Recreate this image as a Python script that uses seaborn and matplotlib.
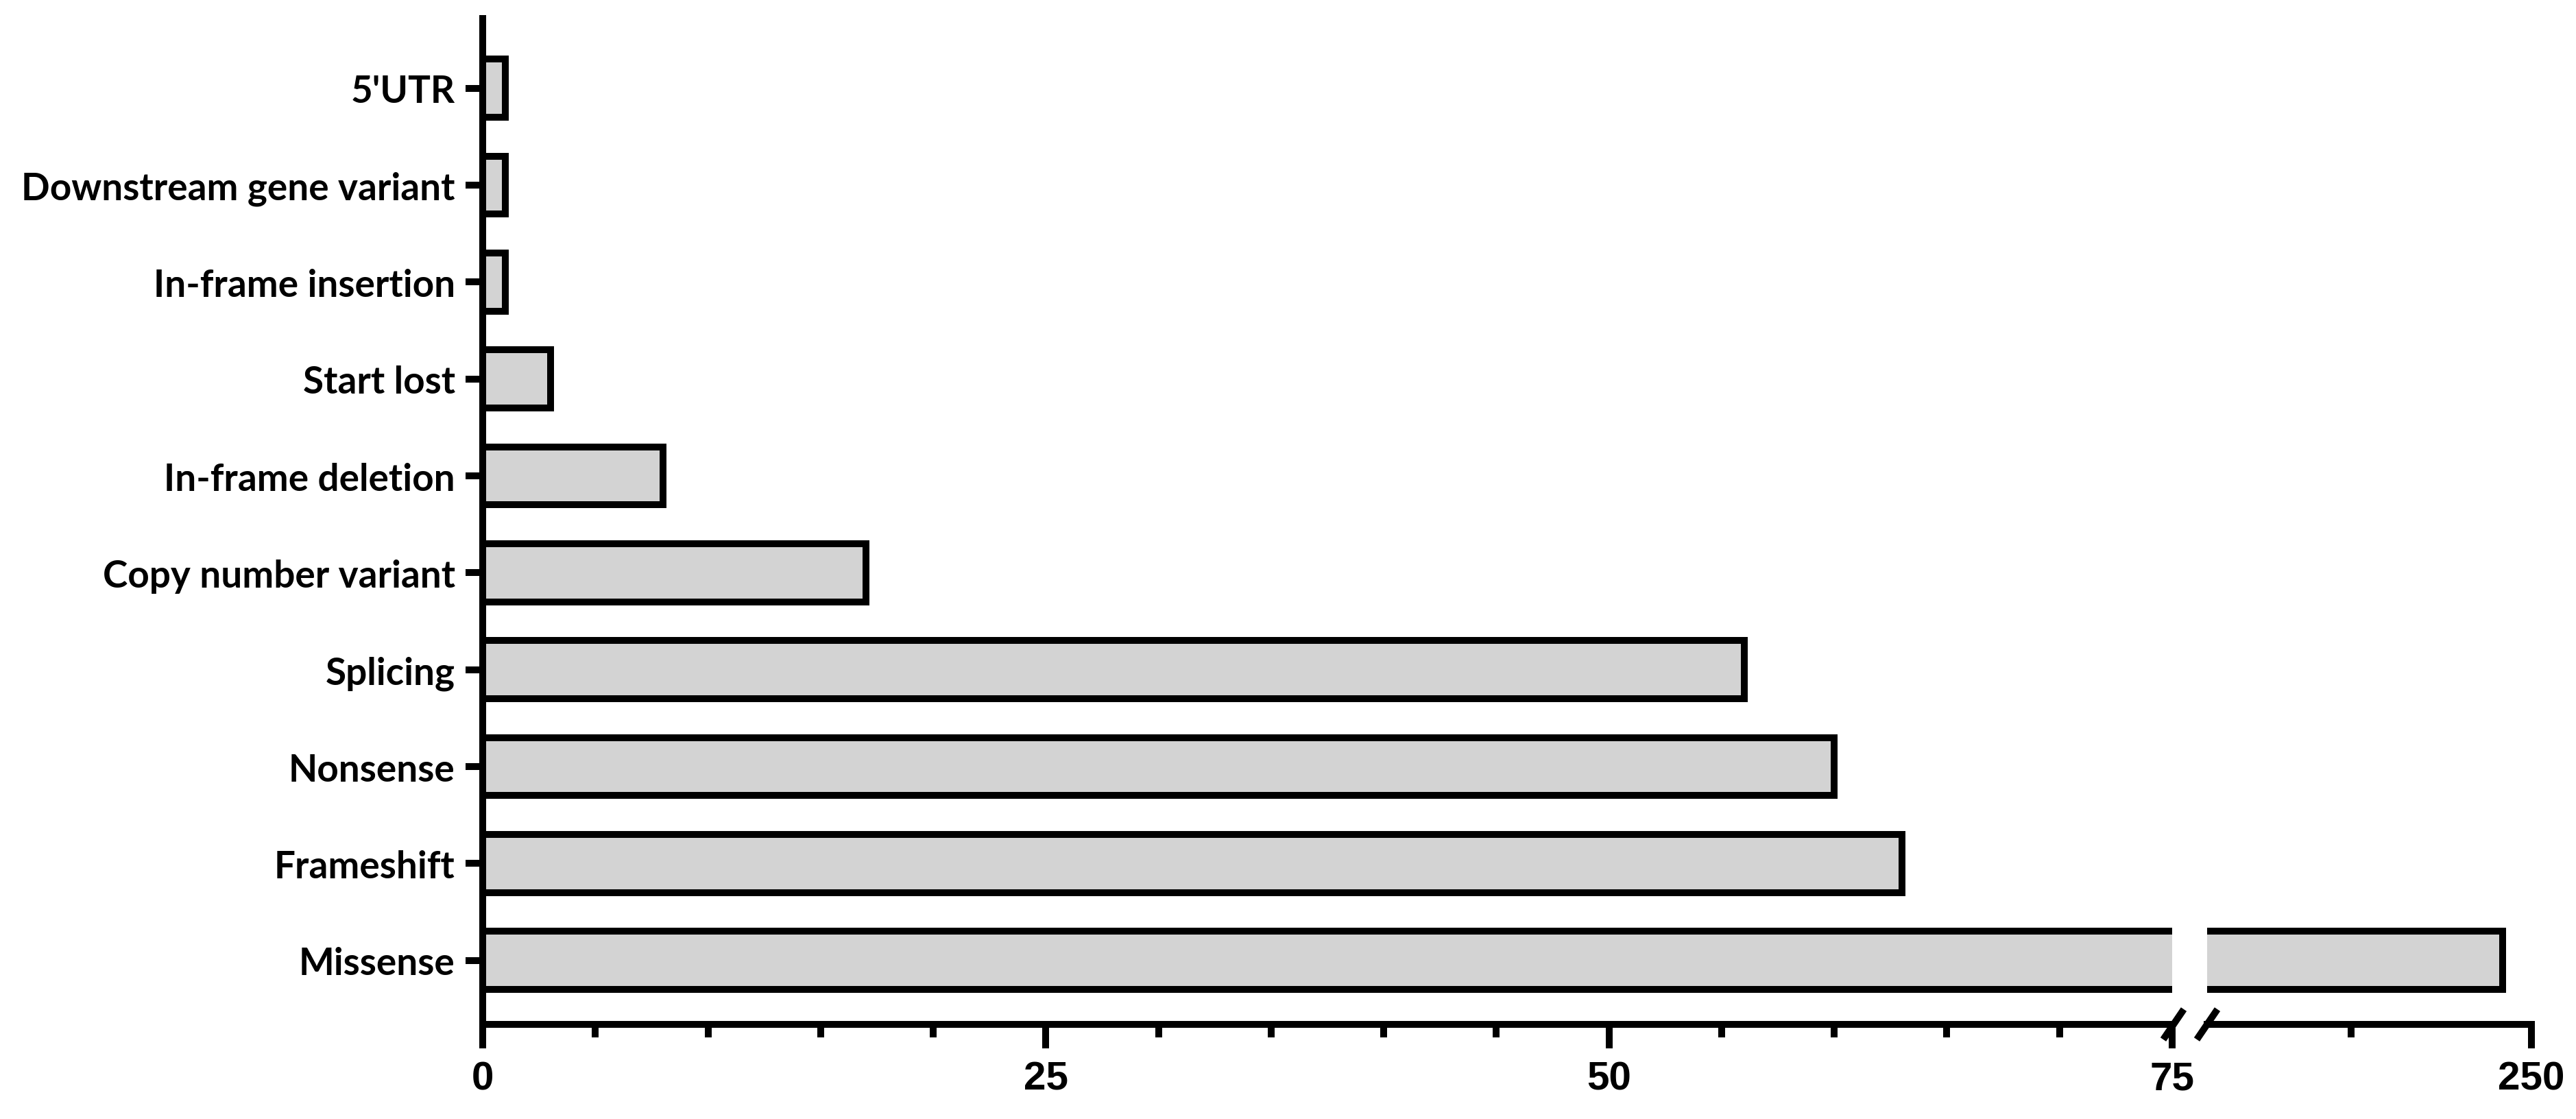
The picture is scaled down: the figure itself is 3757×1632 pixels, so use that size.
# %%
"""
Variant consequence counts, horizontal bars with a broken x axis (0-75 | 205-250).
"""

# %%
import matplotlib
matplotlib.use("Agg")

import pandas as pd
import matplotlib.pyplot as plt
from matplotlib.lines import Line2D
from matplotlib.ticker import FixedLocator, MultipleLocator
import seaborn as sns

# %%
# values
variants = ["5'UTR", "Downstream gene variant", "In-frame insertion", "Start lost",
            "In-frame deletion", "Copy number variant", "Splicing", "Nonsense",
            "Frameshift", "Missense"]
counts = [1, 1, 1, 3, 8, 17, 56, 60, 63, 246]

# the two pieces of the broken x axis
left_range = (0, 75)
right_range = (205, 250)
left_major = [0, 25, 50, 75]
left_minor_step = 5
right_major = [250]
right_minor = [225]

df = pd.DataFrame({"variant": variants, "count": counts})

# %%
sns.set_style("ticks")
plt.rcParams["font.family"] = ["Liberation Sans", "DejaVu Sans"]
plt.rcParams.update({"axes.edgecolor": "black", "xtick.color": "black",
                     "ytick.color": "black", "text.color": "black",
                     "axes.labelcolor": "black"})

DPI = 100
W, H = 3757, 1633
LW = 7.2  # ~10 px strokes, as in the original
AXIS_Y = 1495  # pixel row of the x axis
fig = plt.figure(figsize=(W / DPI, H / DPI), dpi=DPI)


def px_box(x0, x1, y_top, y_bot):
    # axes rectangle from pixel edges (origin top-left)
    return [x0 / W, 1 - y_bot / H, (x1 - x0) / W, (y_bot - y_top) / H]


ax_l = fig.add_axes(px_box(704, 3168, 28, AXIS_Y))
ax_r = fig.add_axes(px_box(3219, 3692, 28, AXIS_Y))

for ax in (ax_l, ax_r):
    sns.barplot(data=df, x="count", y="variant", orient="h", color="#d3d3d3",
                saturation=1, edgecolor="black", linewidth=LW, width=0.6, ax=ax)
    ax.set_ylim(len(variants) - 1 + 0.66, -0.72)
    ax.set_xlabel("")
    ax.set_ylabel("")
    for s in ("top", "right"):
        ax.spines[s].set_visible(False)
    ax.spines["bottom"].set_linewidth(LW)
    ax.tick_params(axis="x", which="major", length=25, width=LW, pad=13,
                   labelsize=42, color="black", labelcolor="black")
    ax.tick_params(axis="x", which="minor", length=14, width=LW, color="black")

# left piece
ax_l.set_xlim(*left_range)
ax_l.xaxis.set_major_locator(FixedLocator(left_major))
ax_l.xaxis.set_minor_locator(MultipleLocator(left_minor_step))
ax_l.spines["left"].set_linewidth(LW)
ax_l.tick_params(axis="y", length=18, width=LW, pad=11, color="black",
                 labelcolor="black")
for lab in ax_l.get_yticklabels():
    lab.set_fontfamily(["Lato", "DejaVu Sans"])
    lab.set_fontweight("bold")
    lab.set_fontsize(39.5)

# right piece
ax_r.set_xlim(*right_range)
ax_r.xaxis.set_major_locator(FixedLocator(right_major))
ax_r.xaxis.set_minor_locator(FixedLocator(right_minor))
ax_r.spines["left"].set_visible(False)
ax_r.set_yticks([])

for ax in (ax_l, ax_r):
    for lab in ax.get_xticklabels():
        lab.set_fontweight("bold")

# break marks "//" on the x axis
for cx in (3170, 3219):
    fig.add_artist(Line2D([(cx - 15) / W, (cx + 15) / W],
                          [1 - (AXIS_Y + 22) / H, 1 - (AXIS_Y - 22) / H],
                          transform=fig.transFigure, color="black", lw=LW,
                          solid_capstyle="butt"))

fig.savefig("out.png", dpi=DPI, facecolor="white")
